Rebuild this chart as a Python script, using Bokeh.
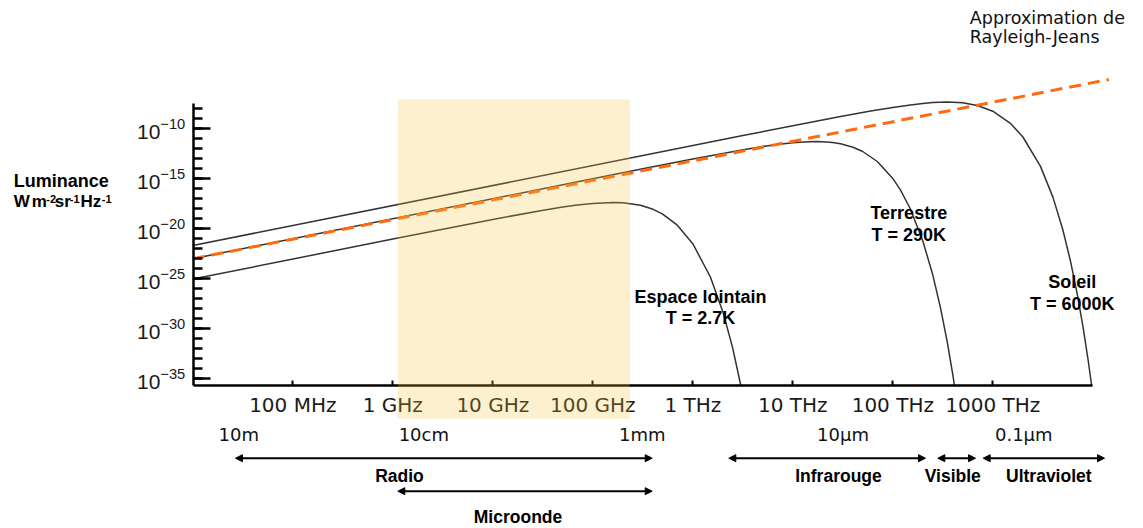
import numpy as np
from bokeh.plotting import figure
from bokeh.models import Range1d, FixedTicker, Label, Arrow, NormalHead, BoxAnnotation
from bokeh.embed import file_html
from bokeh.resources import INLINE

# Spectral radiance curves: log10 frequency (Hz) and log10 radiance (W m-2 sr-1 Hz-1)
cmb_logf = [7.0, 9.0, 10.0, 10.477, 10.699, 10.845, 11.0, 11.204, 11.301, 11.477,
            11.602, 11.699, 11.845, 12.0, 12.176, 12.301, 12.398, 12.48]
cmb_logb = [-25.08, -21.09, -19.12, -18.25, -17.89, -17.69, -17.52, -17.43, -17.46, -17.71,
            -18.11, -18.59, -19.70, -21.55, -24.88, -28.37, -31.94, -35.73]

earth_logf = [7.0, 11.0, 11.5, 12.0, 12.301, 12.477, 12.699, 12.845, 13.0, 13.114, 13.230,
              13.301, 13.398, 13.477, 13.602, 13.699, 13.845, 14.0, 14.079, 14.176,
              14.301, 14.398, 14.477, 14.544, 14.602, 14.616]
earth_logb = [-23.05, -15.05, -14.06, -13.09, -12.52, -12.21, -11.84, -11.64, -11.46, -11.37, -11.34,
              -11.35, -11.43, -11.55, -11.90, -12.33, -13.33, -15.02, -16.22, -18.08,
              -21.30, -24.60, -27.96, -31.35, -34.77, -35.73]

sun_logf = [7.0, 12.5, 13.0, 13.477, 13.602, 13.778, 14.0, 14.176, 14.301, 14.398, 14.544,
            14.699, 14.845, 15.0, 15.176, 15.301, 15.477, 15.602, 15.699, 15.778, 15.845,
            15.903, 15.954, 15.988]
sun_logb = [-21.73, -10.74, -9.75, -8.83, -8.60, -8.29, -7.92, -7.67, -7.53, -7.44, -7.39,
            -7.46, -7.73, -8.30, -9.51, -10.88, -13.82, -16.92, -20.10, -23.34, -26.61,
            -29.91, -33.23, -35.73]

# Rayleigh-Jeans asymptote
rj_logf = [7.0, 16.16]
rj_logb = [-23.05, -5.13]

# Axis ticks
freq_ticks = [1e8, 1e9, 1e10, 1e11, 1e12, 1e13, 1e14, 1e15]
freq_labels = ["100 MHz", "1 GHz", "10 GHz", "100 GHz", "1 THz", "10 THz", "100 THz", "1000 THz"]
radiance_ticks = [1e-35, 1e-30, 1e-25, 1e-20, 1e-15, 1e-10]
radiance_minor = [10.0 ** e for e in range(-35, -7)]

# Wavelength markers (log10 frequency of label centre)
wl_labels = ["10m", "10cm", "1mm", "10\u00b5m", "0.1\u00b5m"]
wl_logf = [7.46, 9.31, 11.494, 13.502, 15.31]

# Spectral bands: log10 start/end frequency
band_names = ["Radio", "Microonde", "Infrarouge", "Visible", "Ultraviolet"]
band_start = [7.427, 9.05, 12.36, 14.45, 14.904]
band_end = [11.594, 11.594, 14.327, 14.827, 16.117]


def at(lf, lb):
    return dict(x=10 ** lf, y=10 ** lb)


# The frame fills the whole canvas; axes sit at fixed data locations inside it
p = figure(width=1143, height=528, x_axis_type="log", y_axis_type="log",
           x_range=Range1d(10 ** 5.077, 10 ** 16.507), y_range=Range1d(10 ** -50.03, 10 ** 2.77),
           output_backend="svg", toolbar_location=None, title=None,
           min_border_left=0, min_border_bottom=0, min_border_top=0, min_border_right=0)
p.xgrid.visible = False
p.ygrid.visible = False
p.outline_line_color = None
p.background_fill_color = "white"
p.border_fill_color = "white"

xa = p.xaxis[0]
xa.fixed_location = 10 ** -35.73
xa.ticker = FixedTicker(ticks=freq_ticks, minor_ticks=[])
xa.major_label_overrides = {f: lab for f, lab in zip(freq_ticks, freq_labels)}
xa.bounds = (10 ** 7.005, 1e16)
xa.axis_line_width = 2.5
xa.axis_line_color = "black"
xa.major_tick_in = 5
xa.major_tick_out = 0
xa.major_tick_line_width = 2
xa.minor_tick_in = 0
xa.minor_tick_out = 0
xa.major_label_standoff = 7
xa.major_label_text_font = "DejaVu Sans"
xa.major_label_text_font_size = "20px"
xa.major_label_text_color = "#1a1a1a"

ya = p.yaxis[0]
ya.fixed_location = 10 ** 7.005
ya.ticker = FixedTicker(ticks=radiance_ticks, minor_ticks=radiance_minor)
ya.bounds = (10 ** -35.73, 10 ** -7.5)
ya.axis_line_width = 2.5
ya.axis_line_color = "black"
ya.major_tick_in = 17
ya.major_tick_out = 0
ya.major_tick_line_width = 2.5
ya.minor_tick_in = 9
ya.minor_tick_out = 0
ya.minor_tick_line_width = 2.5
ya.major_label_standoff = 8
ya.major_label_text_font = "Liberation Sans"
ya.major_label_text_font_size = "21px"
ya.major_label_text_color = "#1a1a1a"

curve_color = "#333333"
for lf, lb in [(cmb_logf, cmb_logb), (earth_logf, earth_logb), (sun_logf, sun_logb)]:
    p.line(10 ** np.array(lf), 10 ** np.array(lb), line_color=curve_color, line_width=1.5)

p.line(10 ** np.array(rj_logf), 10 ** np.array(rj_logb), line_color="#FF6A10",
       line_width=3, line_dash="12 7")

# Microwave window highlight
p.add_layout(BoxAnnotation(left=10 ** 9.05, right=10 ** 11.37, top=10 ** -7.13, bottom=10 ** -39.06,
                           fill_color="#F5C53A", fill_alpha=0.25, line_alpha=0, level="overlay"))

bold = dict(text_font="Liberation Sans", text_font_style="bold", text_color="black")

# Curve annotations
for txt, lf, lb in [("Espace lointain", 12.077, -26.86), ("T = 2.7K", 12.077, -28.96),
                    ("Terrestre", 14.16, -18.46), ("T = 290K", 14.16, -20.7),
                    ("Soleil", 15.794, -25.36), ("T = 6000K", 15.794, -27.53)]:
    p.add_layout(Label(**at(lf, lb), text=txt, text_align="center", text_baseline="alphabetic",
                       text_font_size="18px", **bold))

for txt, lb in [("Approximation de", 1.07), ("Rayleigh-Jeans", -0.86)]:
    p.add_layout(Label(**at(14.77, lb), text=txt, text_align="left", text_baseline="alphabetic",
                       text_font="DejaVu Sans", text_font_size="17.5px", text_color="#111111"))

# Y axis title with superscripts
p.add_layout(Label(**at(5.21, -15.3), text="Luminance", text_align="left",
                   text_baseline="alphabetic", text_font_size="18px", **bold))
for txt, lf, lb, size in [("W", 5.21, -17.36, "17px"), ("m", 5.39, -17.36, "17px"),
                          ("-2", 5.535, -17.12, "11px"), ("sr", 5.62, -17.36, "17px"),
                          ("-1", 5.77, -17.12, "11px"), ("Hz", 5.877, -17.36, "17px"),
                          ("-1", 6.09, -17.12, "11px")]:
    p.add_layout(Label(**at(lf, lb), text=txt, text_align="left", text_baseline="alphabetic",
                       text_font_size=size, **bold))

# Wavelength labels
for txt, lf in zip(wl_labels, wl_logf):
    p.add_layout(Label(**at(lf, -40.6), text=txt, text_align="center", text_baseline="alphabetic",
                       text_font="DejaVu Sans", text_font_size="18px", text_color="#111111"))

# Band arrows and names
arrow_row = [-43.0, -46.3, -43.0, -43.0, -43.0]
name_row = [-44.8, -48.86, -44.8, -44.8, -44.8]
name_pos = [9.067, 10.252, 13.457, 14.6, 15.56]
for name, s, e, ar, nr, npos in zip(band_names, band_start, band_end, arrow_row, name_row, name_pos):
    p.add_layout(Arrow(start=NormalHead(size=7, fill_color="black", line_color="black"),
                       end=NormalHead(size=7, fill_color="black", line_color="black"),
                       x_start=10 ** s, y_start=10 ** ar, x_end=10 ** e, y_end=10 ** ar,
                       line_width=2, line_color="black"))
    p.add_layout(Label(**at(npos, nr), text=name, text_align="center", text_baseline="alphabetic",
                       text_font_size="17.5px", **bold))

open("out.html", "w").write(file_html(p, INLINE))
